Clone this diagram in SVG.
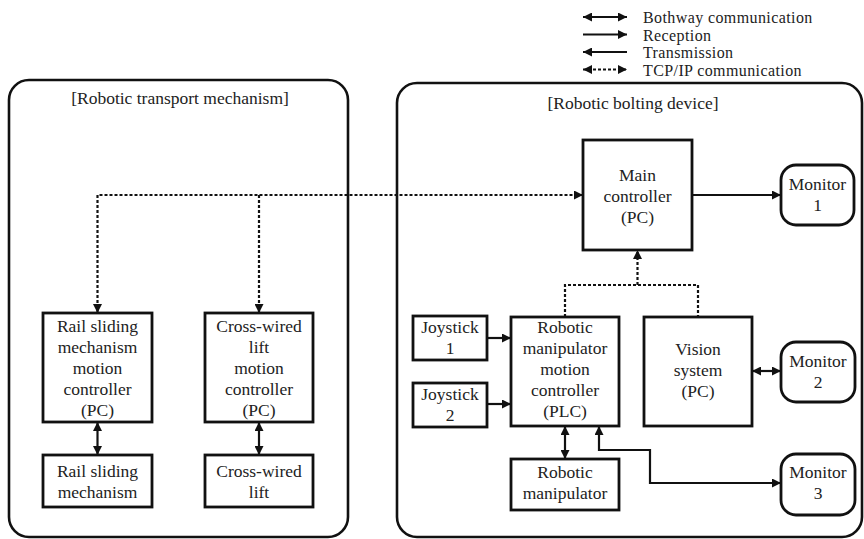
<svg xmlns="http://www.w3.org/2000/svg" width="864" height="539" viewBox="0 0 864 539" font-family="'Liberation Serif', 'DejaVu Serif', serif">
<defs>
<marker id="ah" viewBox="0 0 10 10" refX="10" refY="5" markerWidth="9" markerHeight="9" markerUnits="userSpaceOnUse" orient="auto-start-reverse">
<path d="M0,0 L10,5 L0,10 z" fill="#111"/>
</marker>
<style>
text{font-family:'Liberation Serif','DejaVu Serif',serif;font-size:17.5px;fill:#222;text-anchor:middle}
.lg{text-anchor:start;font-size:16px;letter-spacing:0.4px}
.panel{fill:none;stroke:#111;stroke-width:2.6}
.box{fill:#fff;stroke:#111;stroke-width:2.8}
.c{fill:none;stroke:#111;stroke-width:2.2}
.d{fill:none;stroke:#111;stroke-width:2.2;stroke-dasharray:3 2}
.e{marker-end:url(#ah)}
.s{marker-start:url(#ah)}
</style>
</defs>
<rect width="864" height="539" fill="#fff"/>

<g id="legend">
<path class="c s e" d="M583,17 H627"/>
<path class="c e" d="M583,34.5 H627"/>
<path class="c s" d="M583,52 H627"/>
<path class="d s e" d="M583,69.5 H627"/>
<text class="lg" x="643" y="23">Bothway communication</text>
<text class="lg" x="643" y="40.5">Reception</text>
<text class="lg" x="643" y="58">Transmission</text>
<text class="lg" x="643" y="75.5">TCP/IP communication</text>
</g>

<g id="panel-transport">
<rect class="panel" x="9" y="80" width="339" height="457" rx="20"/>
<text x="180" y="104">[Robotic transport mechanism]</text>
</g>
<g id="panel-bolting">
<rect class="panel" x="397" y="83" width="465" height="454" rx="20"/>
<text x="633" y="109">[Robotic bolting device]</text>
</g>

<g id="connectors">
<path class="d s e" d="M97.5,313 V195 H583"/>
<path class="d e" d="M259,195 V313"/>
<path class="d" d="M565,317 V285 H698 V317"/>
<path class="d e" d="M637.5,285 V250"/>
<path class="c e" d="M692,195 H781"/>
<path class="c e" d="M487,338 H511"/>
<path class="c e" d="M487,404 H511"/>
<path class="c s e" d="M752,371 H781"/>
<path class="c s e" d="M97.5,422 V455"/>
<path class="c s e" d="M259,422 V455"/>
<path class="c s e" d="M565,426 V459"/>
<path class="c s e" d="M599,426 V450 H650 V483 H781"/>
</g>

<g id="rail-ctrl">
<rect class="box" x="43" y="313" width="109" height="109"/>
<text x="97.5" y="332">Rail sliding</text>
<text x="97.5" y="353">mechanism</text>
<text x="97.5" y="374">motion</text>
<text x="97.5" y="395">controller</text>
<text x="97.5" y="416">(PC)</text>
</g>
<g id="lift-ctrl">
<rect class="box" x="205" y="313" width="108" height="109"/>
<text x="259" y="332">Cross-wired</text>
<text x="259" y="353">lift</text>
<text x="259" y="374">motion</text>
<text x="259" y="395">controller</text>
<text x="259" y="416">(PC)</text>
</g>
<g id="rail">
<rect class="box" x="43" y="455" width="109" height="52"/>
<text x="97.5" y="477">Rail sliding</text>
<text x="97.5" y="498">mechanism</text>
</g>
<g id="lift">
<rect class="box" x="205" y="455" width="108" height="52"/>
<text x="259" y="477">Cross-wired</text>
<text x="259" y="498">lift</text>
</g>

<g id="main-ctrl">
<rect class="box" x="583" y="140" width="109" height="110"/>
<text x="637.5" y="181">Main</text>
<text x="637.5" y="202">controller</text>
<text x="637.5" y="223">(PC)</text>
</g>
<g id="monitor1">
<rect class="box" x="781" y="165" width="73" height="60" rx="15"/>
<text x="817.5" y="190">Monitor</text>
<text x="817.5" y="211">1</text>
</g>
<g id="joystick1">
<rect class="box" x="413" y="316" width="74" height="44"/>
<text x="450" y="333">Joystick</text>
<text x="450" y="354">1</text>
</g>
<g id="joystick2">
<rect class="box" x="413" y="383" width="74" height="44"/>
<text x="450" y="400">Joystick</text>
<text x="450" y="421">2</text>
</g>
<g id="manip-ctrl">
<rect class="box" x="511" y="317" width="108" height="109"/>
<text x="565" y="333">Robotic</text>
<text x="565" y="354">manipulator</text>
<text x="565" y="375">motion</text>
<text x="565" y="396">controller</text>
<text x="565" y="417">(PLC)</text>
</g>
<g id="vision">
<rect class="box" x="644" y="317" width="108" height="109"/>
<text x="698" y="355">Vision</text>
<text x="698" y="376">system</text>
<text x="698" y="397">(PC)</text>
</g>
<g id="monitor2">
<rect class="box" x="781" y="342" width="74" height="60" rx="15"/>
<text x="818" y="367">Monitor</text>
<text x="818" y="388">2</text>
</g>
<g id="manipulator">
<rect class="box" x="511" y="459" width="108" height="51"/>
<text x="565" y="478">Robotic</text>
<text x="565" y="499">manipulator</text>
</g>
<g id="monitor3">
<rect class="box" x="781" y="454" width="74" height="61" rx="15"/>
<text x="818" y="478">Monitor</text>
<text x="818" y="499">3</text>
</g>
</svg>
